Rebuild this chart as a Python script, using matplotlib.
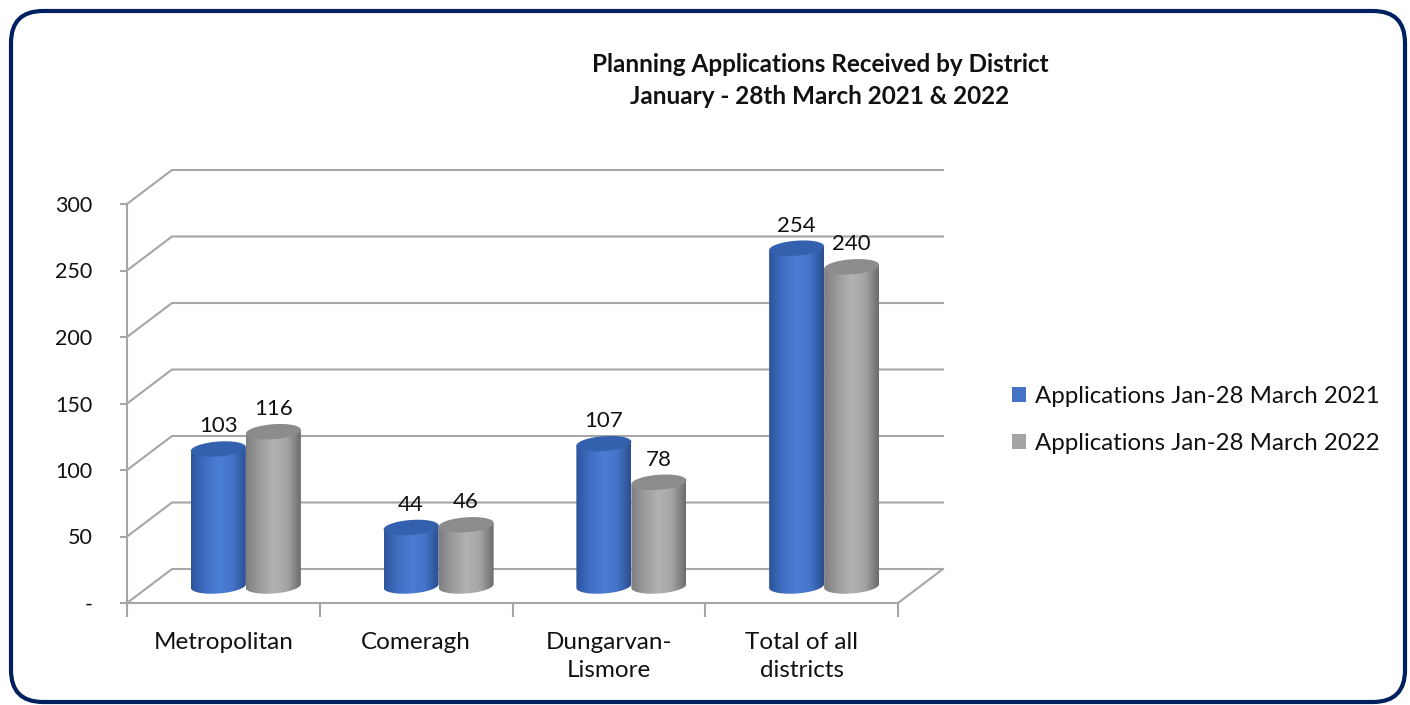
import numpy as np
import matplotlib
matplotlib.use("Agg")
import matplotlib.pyplot as plt
from matplotlib.patches import Polygon, Patch, FancyBboxPatch
from matplotlib.colors import LinearSegmentedColormap

# data
categories = ["Metropolitan", "Comeragh", "Dungarvan-\nLismore", "Total of all\ndistricts"]
apps_2021 = [103, 44, 107, 254]
apps_2022 = [116, 46, 78, 240]
series_names = ["Applications Jan-28 March 2021", "Applications Jan-28 March 2022"]
y_ticks = [0, 50, 100, 150, 200, 250, 300]
y_tick_labels = ["-", "50", "100", "150", "200", "250", "300"]

W, H = 1410, 705
plt.rcParams['font.family'] = ['Lato', 'DejaVu Sans']
fig = plt.figure(figsize=(W / 100, H / 100), dpi=100)

# rounded navy frame (pixel coordinates)
bg = fig.add_axes([0, 0, 1, 1])
bg.set_xlim(0, W)
bg.set_ylim(H, 0)
bg.axis('off')
bg.add_patch(FancyBboxPatch((11, 11), 1394, 691, boxstyle="round,pad=0,rounding_size=32",
                            fc='white', ec='#002060', lw=3))

# chart area
px_x = 192.75          # pixels per category
px_y = 399 / 300       # pixels per value unit
left_px, right_px, zero_px, top_px = 127, 960, 603, 160
ax = fig.add_axes([left_px / W, (H - zero_px) / H, (right_px - left_px) / W, (zero_px - top_px) / H])
ax.patch.set_alpha(0)
xmax = (right_px - left_px) / px_x
ymax = (zero_px - top_px) / px_y

n = len(categories)
dx = 45 / px_x          # depth offset of the back wall
dy = 34 / px_y
grid = '#A6A6A6'

for v in y_ticks:
    ax.plot([0, dx, n + dx], [v, v + dy, v + dy], color=grid, lw=1.5, zorder=1, clip_on=False)
ax.plot([n, n + dx], [0, dy], color=grid, lw=1.5, zorder=1, clip_on=False)

for side in ['top', 'right']:
    ax.spines[side].set_visible(False)
ax.spines['left'].set_bounds(0, 300)
ax.spines['bottom'].set_bounds(0, n)
for side in ['left', 'bottom']:
    ax.spines[side].set_color(grid)
    ax.spines[side].set_linewidth(1.5)

ax.set_yticks(y_ticks, y_tick_labels)
ax.tick_params(axis='y', length=5, width=1.5, color=grid, pad=20, labelsize=15.5, labelcolor='#111111')
ax.set_xticks(np.arange(n + 1), [''] * (n + 1))
ax.set_xticks(np.arange(n) + 0.5, categories, minor=True)
ax.tick_params(axis='x', which='major', length=10, width=1.5, color=grid)
ax.tick_params(axis='x', which='minor', length=0, pad=21, labelsize=17.5, labelcolor='#111111')
for lab in ax.get_xticklabels(minor=True):
    lab.set_linespacing(1.4)

# cylinders
w = 55 / px_x
eh = 15 / px_y
tilt = 0.07 * px_x / px_y     # slight perspective tilt of the ellipses
blue_cmap = LinearSegmentedColormap.from_list('b', ['#2D549C', '#3F6EC2', '#4A7DD5', '#4474C8', '#2A4D8F'])
gray_cmap = LinearSegmentedColormap.from_list('g', ['#7E7E7E', '#9C9C9C', '#B3B3B3', '#A4A4A4', '#6C6C6C'])
series = [(apps_2022, 1, gray_cmap, '#8C8C8C', 3), (apps_2021, 0, blue_cmap, '#3461AE', 5)]
grad = np.linspace(0, 1, 256)[None, :]
th_half = np.linspace(np.pi, 2 * np.pi, 60)
th_full = np.linspace(0, 2 * np.pi, 120)


def ellipse_pts(cx, cy, th):
    ex = w / 2 * np.cos(th)
    return list(zip(cx + ex, cy + eh / 2 * np.sin(th) + tilt * ex))


for vals, s, cmap, top_col, z in series:
    for i, v in enumerate(vals):
        cx = i + 0.5 + dx / 2 + (s - 0.5) * w
        base = dy / 2
        top = v + dy / 2
        pts = ellipse_pts(cx, base, th_half)
        pts += [(cx + w / 2, top + tilt * w / 2), (cx - w / 2, top - tilt * w / 2)]
        body = Polygon(pts, closed=True, fc='none', ec='none')
        ax.add_patch(body)
        im = ax.imshow(grad, cmap=cmap, extent=(cx - w / 2, cx + w / 2, base - eh, top + eh),
                       aspect='auto', origin='lower', zorder=z, interpolation='bilinear')
        im.set_clip_path(body)
        ax.add_patch(Polygon(ellipse_pts(cx, top, th_full), closed=True, fc=top_col, ec='none', zorder=z + 0.5))
        ax.text(cx, top + 17, str(v), ha='center', va='center', fontsize=16, color='#111111', zorder=8)

ax.set_xlim(0, xmax)
ax.set_ylim(0, ymax)

# legend
handles = [Patch(fc='#4472C4'), Patch(fc='#A5A5A5')]
fig.legend(handles, series_names, loc='center left', bbox_to_anchor=(1012 / W, (H - 420) / H),
           frameon=False, fontsize=17.3, handlelength=0.6, handleheight=0.6, handletextpad=0.35,
           labelspacing=1.1, borderpad=0, borderaxespad=0, labelcolor='#111111')

# title
fig.text(820 / W, (H - 64) / H, "Planning Applications Received by District", ha='center', va='center',
         fontsize=17.5, fontweight='bold', color='#111111')
fig.text(820 / W, (H - 97) / H, "January - 28th March 2021 & 2022", ha='center', va='center',
         fontsize=17.5, fontweight='bold', color='#111111')

fig.savefig('out.png', dpi=100)
